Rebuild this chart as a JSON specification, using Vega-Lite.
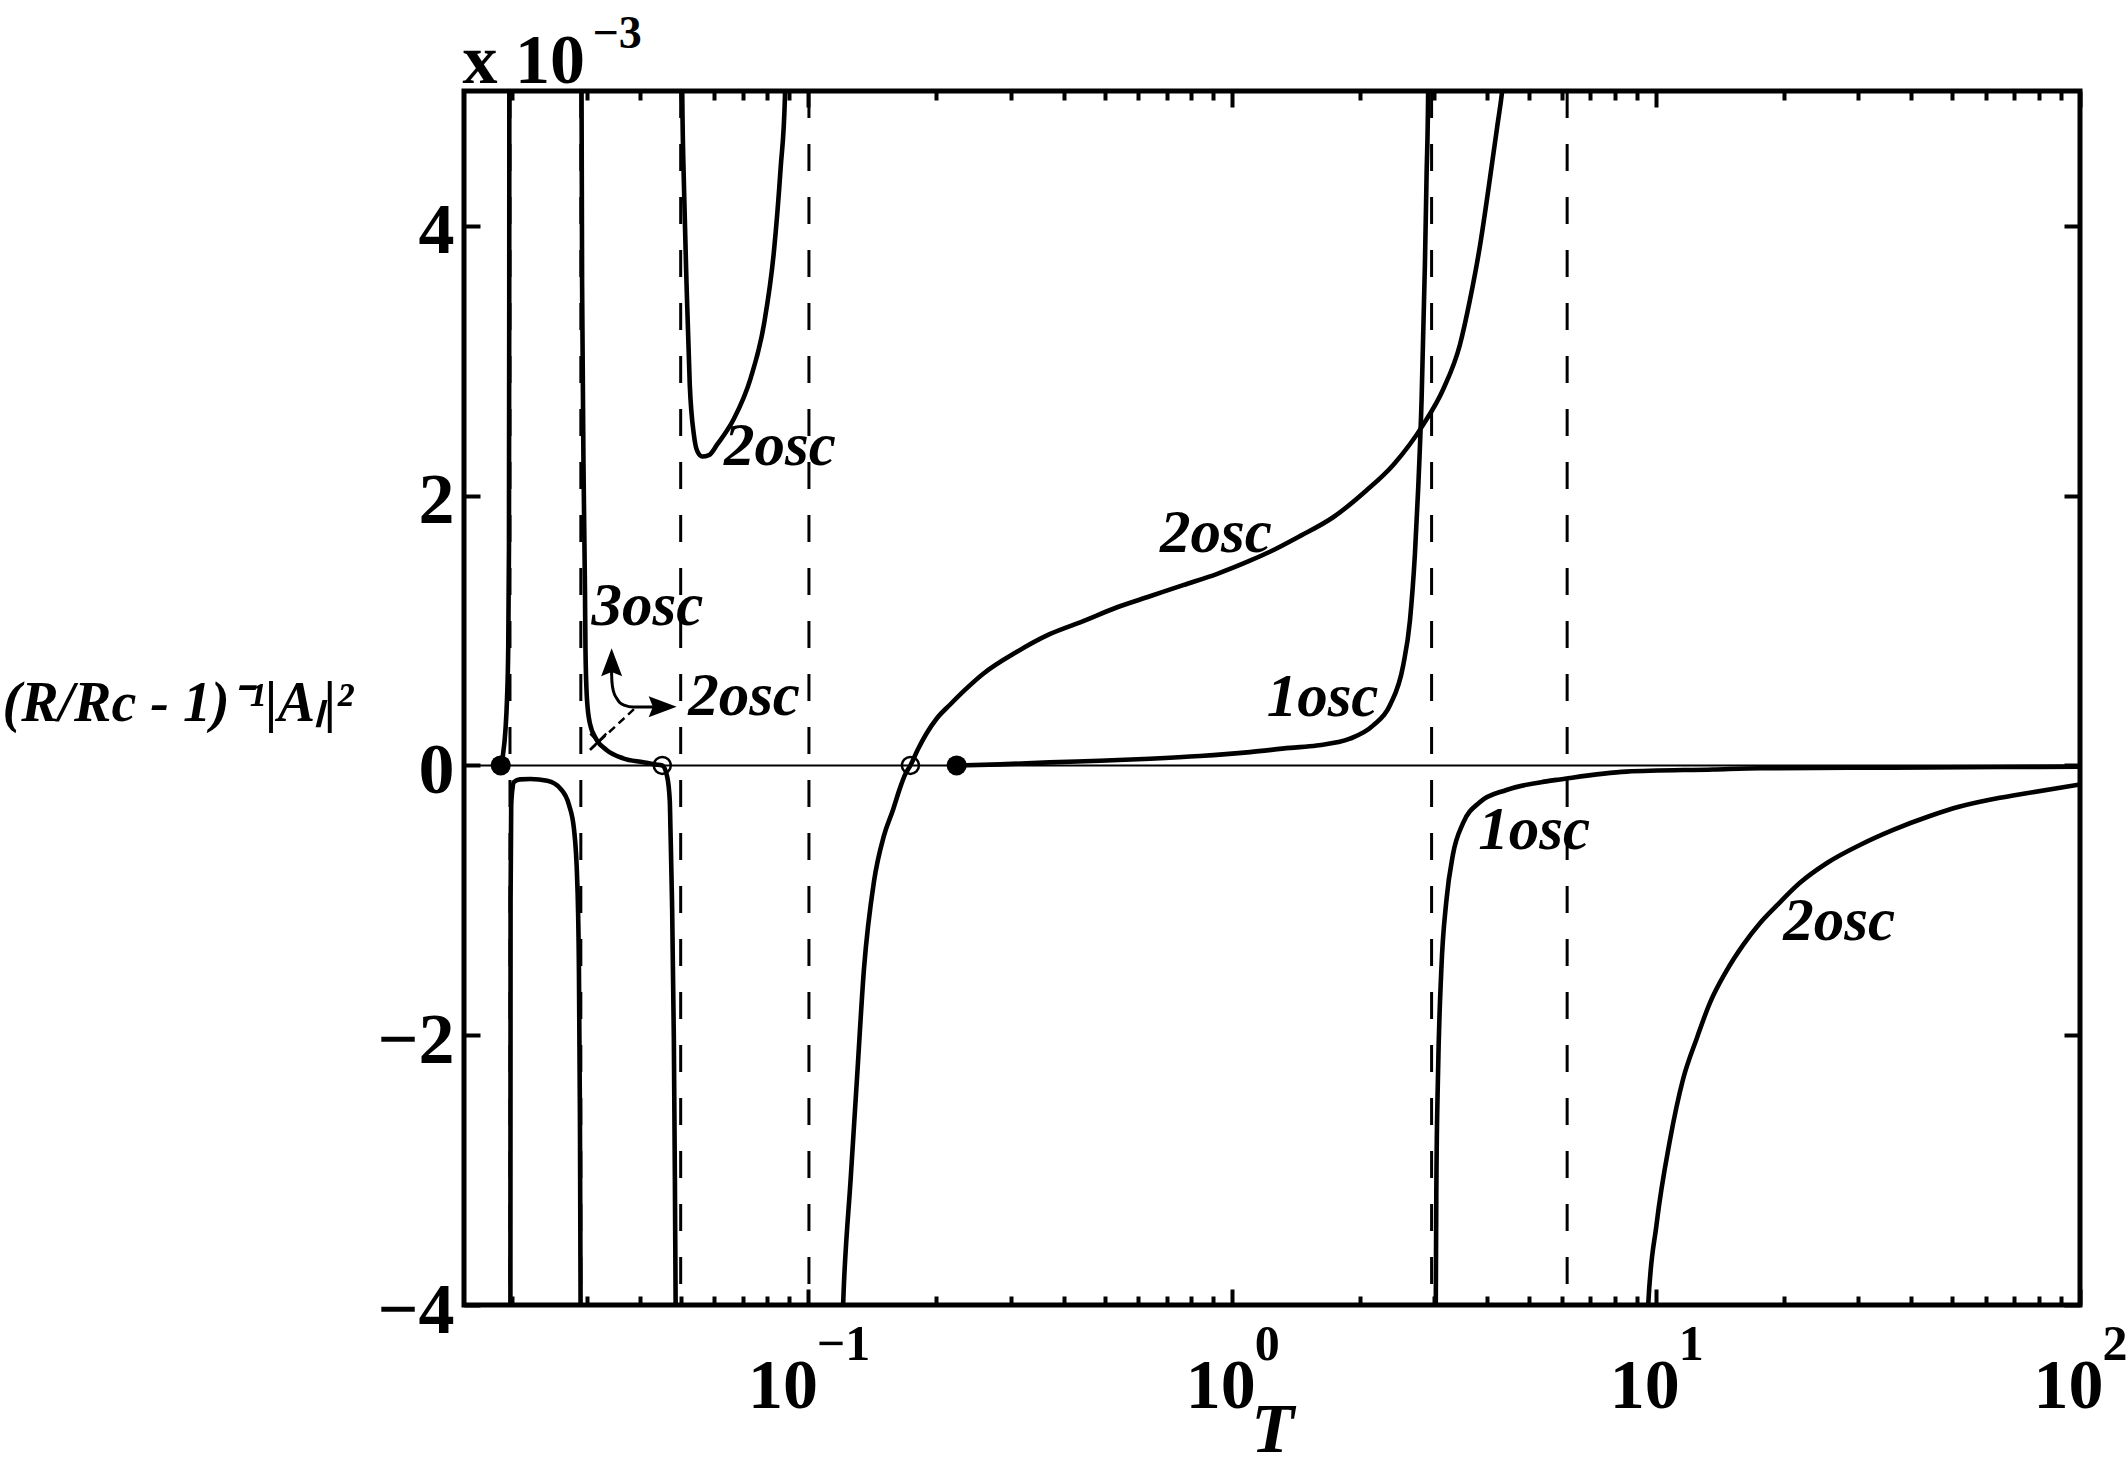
{
  "$schema": "https://vega.github.io/schema/vega-lite/v6.json",
  "width": 1616,
  "height": 1214,
  "autosize": {"type": "none"},
  "padding": {"left": 464, "top": 91, "right": 48, "bottom": 164},
  "background": "white",
  "config": {
    "font": "Liberation Serif",
    "view": {"stroke": "black", "strokeWidth": 5},
    "axis": {"domain": false, "grid": false, "tickColor": "black", "tickWidth": 4, "labelColor": "black", "titleColor": "black", "labelFont": "Liberation Serif", "titleFont": "Liberation Serif"}
  },
  "datasets": {
    "asymptotes": [{"T": 0.01977}, {"T": 0.02905}, {"T": 0.04997}, {"T": 0.1003}, {"T": 2.953}, {"T": 6.167}],
    "curves": [
      {"id": "A", "T": 0.01880, "v": 0}, {"id": "A", "T": 0.01903, "v": 0.078}, {"id": "A", "T": 0.01929, "v": 0.263}, {"id": "A", "T": 0.01945, "v": 0.486}, {"id": "A", "T": 0.01958, "v": 0.857}, {"id": "A", "T": 0.01966, "v": 1.6}, {"id": "A", "T": 0.01969, "v": 3.45}, {"id": "A", "T": 0.01970, "v": 5.3},
      {"id": "B", "T": 0.019813, "v": -4.3}, {"id": "B", "T": 0.019834, "v": -1.0}, {"id": "B", "T": 0.0199, "v": -0.3}, {"id": "B", "T": 0.020041, "v": -0.17}, {"id": "B", "T": 0.020204, "v": -0.122}, {"id": "B", "T": 0.020874, "v": -0.103}, {"id": "B", "T": 0.022123, "v": -0.101}, {"id": "B", "T": 0.02421, "v": -0.114}, {"id": "B", "T": 0.026039, "v": -0.174}, {"id": "B", "T": 0.027229, "v": -0.291}, {"id": "B", "T": 0.027989, "v": -0.472}, {"id": "B", "T": 0.028491, "v": -0.861}, {"id": "B", "T": 0.02875, "v": -1.509}, {"id": "B", "T": 0.028902, "v": -2.546}, {"id": "B", "T": 0.029008, "v": -3.96}, {"id": "B", "T": 0.029023, "v": -4.3},
      {"id": "C", "T": 0.029145, "v": 5.3}, {"id": "C", "T": 0.029251, "v": 3.56}, {"id": "C", "T": 0.029549, "v": 1.93}, {"id": "C", "T": 0.029711, "v": 1.3}, {"id": "C", "T": 0.029793, "v": 0.86}, {"id": "C", "T": 0.030037, "v": 0.49}, {"id": "C", "T": 0.030526, "v": 0.31}, {"id": "C", "T": 0.031661, "v": 0.19}, {"id": "C", "T": 0.033394, "v": 0.115}, {"id": "C", "T": 0.03655, "v": 0.053}, {"id": "C", "T": 0.040775, "v": 0.024}, {"id": "C", "T": 0.043432, "v": 0.008}, {"id": "C", "T": 0.045217, "v": 0}, {"id": "C", "T": 0.046439, "v": -0.083}, {"id": "C", "T": 0.047098, "v": -0.26}, {"id": "C", "T": 0.04727, "v": -0.472}, {"id": "C", "T": 0.047661, "v": -0.991}, {"id": "C", "T": 0.04815, "v": -2.028}, {"id": "C", "T": 0.048422, "v": -3.065}, {"id": "C", "T": 0.048612, "v": -3.96}, {"id": "C", "T": 0.04869, "v": -4.3},
      {"id": "E", "T": 0.050322, "v": 5.3}, {"id": "E", "T": 0.050404, "v": 4.97}, {"id": "E", "T": 0.050866, "v": 4.3}, {"id": "E", "T": 0.051599, "v": 3.56}, {"id": "E", "T": 0.052503, "v": 2.82}, {"id": "E", "T": 0.053698, "v": 2.45}, {"id": "E", "T": 0.054685, "v": 2.33}, {"id": "E", "T": 0.056178, "v": 2.29}, {"id": "E", "T": 0.058248, "v": 2.3}, {"id": "E", "T": 0.060953, "v": 2.38}, {"id": "E", "T": 0.066726, "v": 2.57}, {"id": "E", "T": 0.073063, "v": 2.87}, {"id": "E", "T": 0.078549, "v": 3.27}, {"id": "E", "T": 0.082921, "v": 3.81}, {"id": "E", "T": 0.086016, "v": 4.43}, {"id": "E", "T": 0.088034, "v": 4.95}, {"id": "E", "T": 0.088523, "v": 5.3},
      {"id": "F", "T": 0.119685, "v": -4.3}, {"id": "F", "T": 0.121315, "v": -3.84}, {"id": "F", "T": 0.125815, "v": -3.065}, {"id": "F", "T": 0.13041, "v": -2.288}, {"id": "F", "T": 0.135246, "v": -1.509}, {"id": "F", "T": 0.14279, "v": -0.861}, {"id": "F", "T": 0.150763, "v": -0.52}, {"id": "F", "T": 0.15831, "v": -0.33}, {"id": "F", "T": 0.16439, "v": -0.17}, {"id": "F", "T": 0.16898, "v": -0.07}, {"id": "F", "T": 0.17406, "v": 0}, {"id": "F", "T": 0.18134, "v": 0.12}, {"id": "F", "T": 0.19012, "v": 0.239}, {"id": "F", "T": 0.20106, "v": 0.35}, {"id": "F", "T": 0.21577, "v": 0.45}, {"id": "F", "T": 0.23409, "v": 0.56}, {"id": "F", "T": 0.25855, "v": 0.68}, {"id": "F", "T": 0.30982, "v": 0.841}, {"id": "F", "T": 0.37082, "v": 0.973}, {"id": "F", "T": 0.44508, "v": 1.07}, {"id": "F", "T": 0.5334, "v": 1.171}, {"id": "F", "T": 0.63937, "v": 1.254}, {"id": "F", "T": 0.76606, "v": 1.337}, {"id": "F", "T": 0.91864, "v": 1.419}, {"id": "F", "T": 1.1008, "v": 1.518}, {"id": "F", "T": 1.2271, "v": 1.584}, {"id": "F", "T": 1.4443, "v": 1.7}, {"id": "F", "T": 1.7301, "v": 1.84}, {"id": "F", "T": 2.075, "v": 2.04}, {"id": "F", "T": 2.3975, "v": 2.228}, {"id": "F", "T": 2.8202, "v": 2.525}, {"id": "F", "T": 3.1456, "v": 2.789}, {"id": "F", "T": 3.4444, "v": 3.119}, {"id": "F", "T": 3.6366, "v": 3.45}, {"id": "F", "T": 3.8396, "v": 3.85}, {"id": "F", "T": 4.0539, "v": 4.35}, {"id": "F", "T": 4.2112, "v": 4.72}, {"id": "F", "T": 4.3506, "v": 5.05}, {"id": "F", "T": 4.4221, "v": 5.3},
      {"id": "G", "T": 0.22377, "v": 0}, {"id": "G", "T": 0.28309, "v": 0.008}, {"id": "G", "T": 0.37082, "v": 0.023}, {"id": "G", "T": 0.4872, "v": 0.035}, {"id": "G", "T": 0.63937, "v": 0.05}, {"id": "G", "T": 0.839, "v": 0.07}, {"id": "G", "T": 1.1008, "v": 0.099}, {"id": "G", "T": 1.368, "v": 0.13}, {"id": "G", "T": 1.5815, "v": 0.148}, {"id": "G", "T": 1.895, "v": 0.198}, {"id": "G", "T": 2.1507, "v": 0.297}, {"id": "G", "T": 2.355, "v": 0.446}, {"id": "G", "T": 2.5313, "v": 0.743}, {"id": "G", "T": 2.6252, "v": 1.073}, {"id": "G", "T": 2.6975, "v": 1.568}, {"id": "G", "T": 2.7463, "v": 2.06}, {"id": "G", "T": 2.7974, "v": 2.72}, {"id": "G", "T": 2.8476, "v": 3.71}, {"id": "G", "T": 2.8735, "v": 4.37}, {"id": "G", "T": 2.8978, "v": 4.97}, {"id": "G", "T": 2.9039, "v": 5.3},
      {"id": "H", "T": 3.02, "v": -4.3}, {"id": "H", "T": 3.0214, "v": -3.97}, {"id": "H", "T": 3.0314, "v": -3.078}, {"id": "H", "T": 3.0575, "v": -2.299}, {"id": "H", "T": 3.1129, "v": -1.52}, {"id": "H", "T": 3.2009, "v": -1.0}, {"id": "H", "T": 3.3155, "v": -0.662}, {"id": "H", "T": 3.5028, "v": -0.428}, {"id": "H", "T": 3.8355, "v": -0.273}, {"id": "H", "T": 4.4342, "v": -0.182}, {"id": "H", "T": 5.5103, "v": -0.118}, {"id": "H", "T": 5.9225, "v": -0.104}, {"id": "H", "T": 8.5092, "v": -0.046}, {"id": "H", "T": 13.637, "v": -0.03}, {"id": "H", "T": 17.572, "v": -0.021}, {"id": "H", "T": 36.188, "v": -0.016}, {"id": "H", "T": 64.71, "v": -0.012}, {"id": "H", "T": 100, "v": -0.009},
      {"id": "I", "T": 9.5374, "v": -4.3}, {"id": "I", "T": 9.5787, "v": -4.0}, {"id": "I", "T": 10.026, "v": -3.4}, {"id": "I", "T": 10.777, "v": -2.78}, {"id": "I", "T": 11.566, "v": -2.33}, {"id": "I", "T": 12.48, "v": -2.02}, {"id": "I", "T": 13.395, "v": -1.76}, {"id": "I", "T": 14.607, "v": -1.53}, {"id": "I", "T": 16.048, "v": -1.33}, {"id": "I", "T": 17.572, "v": -1.17}, {"id": "I", "T": 19.241, "v": -1.04}, {"id": "I", "T": 21.842, "v": -0.87}, {"id": "I", "T": 25.245, "v": -0.725}, {"id": "I", "T": 30.249, "v": -0.59}, {"id": "I", "T": 36.247, "v": -0.478}, {"id": "I", "T": 44.245, "v": -0.375}, {"id": "I", "T": 52.081, "v": -0.305}, {"id": "I", "T": 64.71, "v": -0.24}, {"id": "I", "T": 74.815, "v": -0.206}, {"id": "I", "T": 100, "v": -0.141}
    ],
    "markers": [
      {"kind": "filled", "T": 0.0188, "v": 0}, {"kind": "filled", "T": 0.22377, "v": 0},
      {"kind": "open", "T": 0.045217, "v": 0}, {"kind": "open", "T": 0.17406, "v": 0},
      {"kind": "cross", "T": 0.031939, "v": 0.176}
    ],
    "arrows": [
      {"id": "shaft", "T": 0.034306, "v": 0.72}, {"id": "shaft", "T": 0.034401, "v": 0.62}, {"id": "shaft", "T": 0.034687, "v": 0.55}, {"id": "shaft", "T": 0.035295, "v": 0.498}, {"id": "shaft", "T": 0.035922, "v": 0.465}, {"id": "shaft", "T": 0.036873, "v": 0.445}, {"id": "shaft", "T": 0.038603, "v": 0.433}, {"id": "shaft", "T": 0.042231, "v": 0.434}, {"id": "shaft", "T": 0.044654, "v": 0.436},
      {"id": "lead", "T": 0.030526, "v": 0.115}, {"id": "lead", "T": 0.038972, "v": 0.424}
    ],
    "heads": [
      {"dir": "up", "T": 0.034344, "v": 0.765},
      {"dir": "right", "T": 0.045314, "v": 0.436}
    ],
    "labels": [
      {"text": "2osc", "T": 0.063195, "v": 2.228},
      {"text": "3osc", "T": 0.030803, "v": 1.0415},
      {"text": "2osc", "T": 0.052034, "v": 0.374},
      {"text": "2osc", "T": 0.675, "v": 1.584},
      {"text": "1osc", "T": 1.2053, "v": 0.363},
      {"text": "1osc", "T": 3.8043, "v": -0.623},
      {"text": "2osc", "T": 19.945, "v": -1.294}
    ],
    "exponents": [
      {"T": 0.1, "e": "−1"}, {"T": 1, "e": "0"}, {"T": 10, "e": "1"}, {"T": 100, "e": "2"}
    ]
  },
  "resolve": {"axis": {"x": "independent", "y": "independent"}},
  "layer": [
    {
      "data": {"name": "asymptotes"},
      "mark": {"type": "rule", "strokeDash": [27, 26], "strokeWidth": 3, "color": "black"},
      "encoding": {
        "x": {"field": "T", "type": "quantitative", "scale": {"type": "log", "domain": [0.0154, 100], "nice": false},
          "axis": {"orient": "bottom", "values": [0.02,0.03,0.04,0.05,0.06,0.07,0.08,0.09,0.2,0.3,0.4,0.5,0.6,0.7,0.8,0.9,2,3,4,5,6,7,8,9,20,30,40,50,60,70,80,90], "labels": false, "tickSize": -9, "title": null}}
      }
    },
    {
      "data": {"values": [{"v": 0}]},
      "mark": {"type": "rule", "strokeWidth": 2, "color": "black"},
      "encoding": {
        "y": {"field": "v", "type": "quantitative", "scale": {"domain": [-4, 5], "nice": false, "zero": false}, "axis": null}
      }
    },
    {
      "data": {"name": "curves"},
      "mark": {"type": "line", "strokeWidth": 4.6, "color": "black", "clip": true, "interpolate": "monotone"},
      "encoding": {
        "x": {"field": "T", "type": "quantitative", "scale": {"type": "log", "domain": [0.0154, 100], "nice": false},
          "axis": {"orient": "bottom", "values": [0.1, 1, 10, 100], "labelExpr": "'10'", "tickSize": -16, "labelPadding": 118, "labelBaseline": "alphabetic", "labelAlign": "center",
            "labelOffset": {"condition": {"test": "datum.value < 0.5", "value": -26}, "value": -12},
            "labelFontSize": 70, "labelFontWeight": "bold", "labelFlush": false, "labelOverlap": false,
            "title": "T", "titleX": 808, "titleY": 146, "titleAlign": "center", "titleBaseline": "alphabetic", "titleFontSize": 70, "titleFontStyle": "italic", "titleFontWeight": "bold"}},
        "y": {"field": "v", "type": "quantitative", "scale": {"domain": [-4, 5], "nice": false, "zero": false},
          "axis": {"orient": "left", "values": [-4, -2, 0, 2, 4], "tickSize": -16, "labelPadding": 26, "labelOffset": 5, "labelFontSize": 72, "labelFontWeight": "bold",
            "title": "(R/Rc - 1)⁻¹|Aₗ|²", "titleAngle": 0, "titleX": -462, "titleY": 629, "titleAlign": "left", "titleBaseline": "alphabetic", "titleFontSize": 56, "titleFontStyle": "italic", "titleFontWeight": "bold"}},
        "detail": {"field": "id", "type": "nominal"}
      }
    },
    {
      "data": {"name": "markers"},
      "transform": [{"filter": "datum.kind === 'filled'"}],
      "mark": {"type": "point", "shape": "circle", "filled": true, "size": 400, "color": "black", "opacity": 1},
      "encoding": {
        "x": {"field": "T", "type": "quantitative", "scale": {"type": "log", "domain": [0.0154, 100], "nice": false},
          "axis": {"orient": "top", "values": [0.1, 1, 10, 100], "labels": false, "tickSize": -16,
            "title": "x 10", "titleX": -2, "titleY": -9, "titleAlign": "left", "titleBaseline": "alphabetic", "titleAngle": 0, "titleFontSize": 70, "titleFontWeight": "bold"}},
        "y": {"field": "v", "type": "quantitative", "scale": {"domain": [-4, 5], "nice": false, "zero": false},
          "axis": {"orient": "right", "values": [-4, -2, 0, 2, 4], "labels": false, "tickSize": -16, "title": null}}
      }
    },
    {
      "data": {"name": "markers"},
      "transform": [{"filter": "datum.kind === 'open'"}],
      "mark": {"type": "point", "shape": "circle", "filled": false, "size": 290, "strokeWidth": 2.5, "color": "black", "opacity": 1},
      "encoding": {
        "x": {"field": "T", "type": "quantitative", "scale": {"type": "log", "domain": [0.0154, 100], "nice": false},
          "axis": {"orient": "top", "values": [0.02,0.03,0.04,0.05,0.06,0.07,0.08,0.09,0.2,0.3,0.4,0.5,0.6,0.7,0.8,0.9,2,3,4,5,6,7,8,9,20,30,40,50,60,70,80,90], "labels": false, "tickSize": -9,
            "title": "−3", "titleX": 128, "titleY": -44, "titleAlign": "left", "titleBaseline": "alphabetic", "titleAngle": 0, "titleFontSize": 46, "titleFontWeight": "bold"}},
        "y": {"field": "v", "type": "quantitative", "scale": {"domain": [-4, 5], "nice": false, "zero": false}, "axis": null}
      }
    },
    {
      "data": {"name": "markers"},
      "transform": [{"filter": "datum.kind === 'cross'"}],
      "mark": {"type": "point", "shape": "M-1,-1L1,1M-1,1L1,-1", "filled": false, "size": 256, "strokeWidth": 2.5, "color": "black", "opacity": 1},
      "encoding": {
        "x": {"field": "T", "type": "quantitative", "scale": {"type": "log", "domain": [0.0154, 100], "nice": false}, "axis": null},
        "y": {"field": "v", "type": "quantitative", "scale": {"domain": [-4, 5], "nice": false, "zero": false}, "axis": null}
      }
    },
    {
      "data": {"name": "arrows"},
      "transform": [{"filter": "datum.id === 'shaft'"}],
      "mark": {"type": "line", "strokeWidth": 3, "color": "black", "interpolate": "monotone"},
      "encoding": {
        "x": {"field": "T", "type": "quantitative", "scale": {"type": "log", "domain": [0.0154, 100], "nice": false}, "axis": null},
        "y": {"field": "v", "type": "quantitative", "scale": {"domain": [-4, 5], "nice": false, "zero": false}, "axis": null}
      }
    },
    {
      "data": {"name": "arrows"},
      "transform": [{"filter": "datum.id === 'lead'"}],
      "mark": {"type": "line", "strokeWidth": 2.5, "color": "black", "strokeDash": [8, 5]},
      "encoding": {
        "x": {"field": "T", "type": "quantitative", "scale": {"type": "log", "domain": [0.0154, 100], "nice": false}, "axis": null},
        "y": {"field": "v", "type": "quantitative", "scale": {"domain": [-4, 5], "nice": false, "zero": false}, "axis": null}
      }
    },
    {
      "data": {"name": "heads"},
      "transform": [{"filter": "datum.dir === 'up'"}],
      "mark": {"type": "point", "shape": "M0,-1L0.75,1L0,0.7L-0.75,1Z", "filled": true, "size": 784, "color": "black", "opacity": 1},
      "encoding": {
        "x": {"field": "T", "type": "quantitative", "scale": {"type": "log", "domain": [0.0154, 100], "nice": false}, "axis": null},
        "y": {"field": "v", "type": "quantitative", "scale": {"domain": [-4, 5], "nice": false, "zero": false}, "axis": null}
      }
    },
    {
      "data": {"name": "heads"},
      "transform": [{"filter": "datum.dir === 'right'"}],
      "mark": {"type": "point", "shape": "M0,-1L0.75,1L0,0.7L-0.75,1Z", "angle": 90, "filled": true, "size": 784, "color": "black", "opacity": 1},
      "encoding": {
        "x": {"field": "T", "type": "quantitative", "scale": {"type": "log", "domain": [0.0154, 100], "nice": false}, "axis": null},
        "y": {"field": "v", "type": "quantitative", "scale": {"domain": [-4, 5], "nice": false, "zero": false}, "axis": null}
      }
    },
    {
      "data": {"name": "labels"},
      "mark": {"type": "text", "align": "left", "baseline": "alphabetic", "font": "Liberation Serif", "fontSize": 61, "fontStyle": "italic", "fontWeight": "bold", "color": "black"},
      "encoding": {
        "x": {"field": "T", "type": "quantitative", "scale": {"type": "log", "domain": [0.0154, 100], "nice": false}, "axis": null},
        "y": {"field": "v", "type": "quantitative", "scale": {"domain": [-4, 5], "nice": false, "zero": false}, "axis": null},
        "text": {"field": "text", "type": "nominal"}
      }
    },
    {
      "data": {"name": "exponents"},
      "mark": {"type": "text", "align": "center", "baseline": "alphabetic", "dx": 35, "dy": 55, "font": "Liberation Serif", "fontSize": 50, "fontWeight": "bold", "color": "black"},
      "encoding": {
        "x": {"field": "T", "type": "quantitative", "scale": {"type": "log", "domain": [0.0154, 100], "nice": false}, "axis": null},
        "y": {"datum": -4, "type": "quantitative", "scale": {"domain": [-4, 5], "nice": false, "zero": false}, "axis": null},
        "text": {"field": "e", "type": "nominal"}
      }
    }
  ]
}
